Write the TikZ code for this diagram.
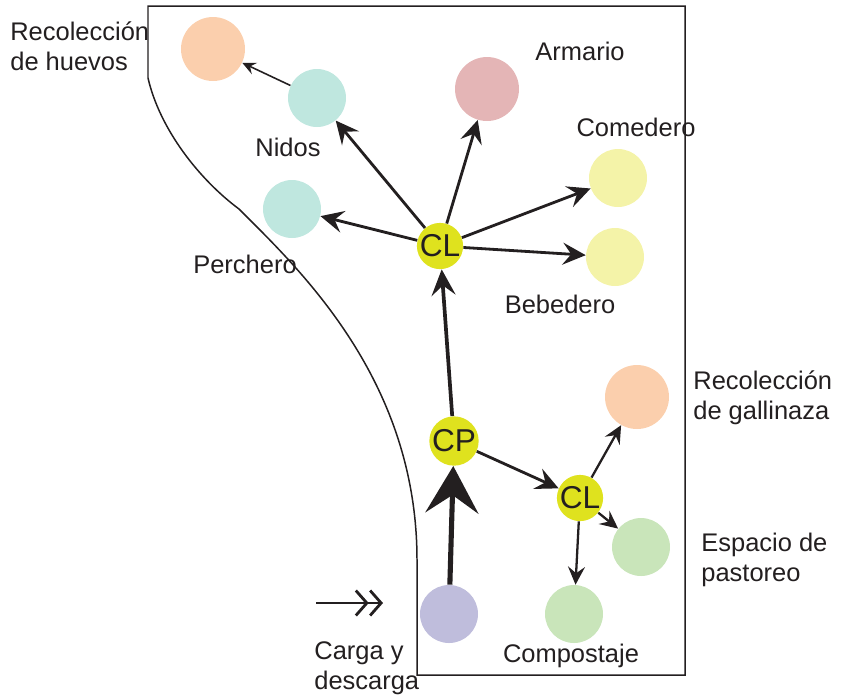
\documentclass[tikz,border=0pt]{standalone}
\usepackage{fontspec}
\setmainfont{Liberation Sans}
\usetikzlibrary{arrows.meta}
\definecolor{peach}{HTML}{FBCFAD}
\definecolor{mint}{HTML}{BFE7DF}
\definecolor{rose}{HTML}{E4B5B6}
\definecolor{paleyellow}{HTML}{F4F3A8}
\definecolor{hubyellow}{HTML}{DFE21E}
\definecolor{sage}{HTML}{C9E5BA}
\definecolor{lilac}{HTML}{BFBDDC}
\definecolor{ink}{HTML}{231F20}

\begin{document}
\begin{tikzpicture}[x=0.02cm,y=-0.02cm,>=Stealth,font=\fontsize{14.5}{17}\selectfont,color=ink]
\tikzstyle{area}=[circle,inner sep=0pt,minimum size=1.16cm]
\tikzstyle{big}=[area,minimum size=1.28cm]
\tikzstyle{hub}=[circle,inner sep=0pt,minimum size=0.92cm,fill=hubyellow,font=\fontsize{18}{18}\selectfont]
\tikzstyle{lbl}=[inner sep=0pt,align=left]
\tikzstyle{link}=[line width=1.6pt,-{Stealth[length=0.46cm,width=0.44cm,inset=0.17cm]}]
\tikzstyle{smalllink}=[line width=1.3pt,-{Stealth[length=0.36cm,width=0.34cm,inset=0.13cm]}]
\useasboundingbox (0,0) rectangle (841,698);
% corral outline
\draw[line width=0.85pt] (148,6) -- (148,78) .. controls (160,130) and (200,180) .. (239,209) .. controls (300,270) and (417,380) .. (417,560) -- (417,675) -- (685,675) -- (685,6) -- cycle;
% areas
\node[big,fill=peach] (huevos) at (213,49) {}; \node[area,fill=mint] (nidos) at (317,98) {}; \node[area,fill=mint] (perchero) at (292,209) {};
\node[big,fill=rose] (armario) at (487,89) {}; \node[area,fill=paleyellow] (comedero) at (618,178) {}; \node[area,fill=paleyellow] (bebedero) at (615,257) {};
\node[big,fill=peach] (gallinaza) at (637,397) {}; \node[area,fill=sage] (pastoreo) at (641,547) {}; \node[area,fill=sage] (compost) at (574,614) {};
\node[area,fill=lilac] (carga) at (449,614) {};
\node[hub] (cl1) at (440,246) {CL}; \node[hub] (cp) at (454,441) {CP}; \node[hub] (cl2) at (580,498) {CL};
% labels
\node[lbl,anchor=west] (tHuevos) at (10,46) {Recolección\\de huevos};
\node[lbl] (tNidos) at (288,147) {Nidos}; \node[lbl] (tArmario) at (580,51) {Armario}; \node[lbl] (tComedero) at (636,127) {Comedero};
\node[lbl] (tPerchero) at (245,264) {Perchero}; \node[lbl] (tBebedero) at (560,304) {Bebedero};
\node[lbl,anchor=west] (tGallinaza) at (693,398) {Recolección\\de gallinaza};
\node[lbl,anchor=west] (tPastoreo) at (701,560) {Espacio de\\pastoreo};
\node[lbl] (tCompost) at (571,656) {Compostaje};
\node[lbl,anchor=west] (tCarga) at (314,668) {Carga y\\descarga};
% flows
\draw[link] (cl1) -- (nidos); \draw[link] (cl1) -- (perchero); \draw[link] (cl1) -- (armario); \draw[link] (cl1) -- (comedero); \draw[link] (cl1) -- (bebedero);
\draw[line width=0.9pt,-{Stealth[length=0.27cm,width=0.25cm,inset=0.1cm]}] (nidos) -- (huevos);
\draw[line width=2.1pt,-{Stealth[length=0.52cm,width=0.48cm,inset=0.2cm]}] (cp) -- (cl1);
\draw[line width=2.9pt,-{Stealth[length=0.94cm,width=1.06cm,inset=0.36cm]}] (carga) -- (cp);
\draw[link] (cp) -- (cl2);
\draw[smalllink] (cl2) -- (gallinaza); \draw[smalllink] (cl2) -- (pastoreo); \draw[smalllink] (cl2) -- (compost);
\coordinate (inA) at (316,603); \coordinate (inB) at (383,603);
\draw[line width=1.6pt,-{Straight Barb[length=0.22cm,width=0.5cm]Straight Barb[length=0.22cm,width=0.5cm]}] (inA) -- (inB);
\end{tikzpicture}
\end{document}
